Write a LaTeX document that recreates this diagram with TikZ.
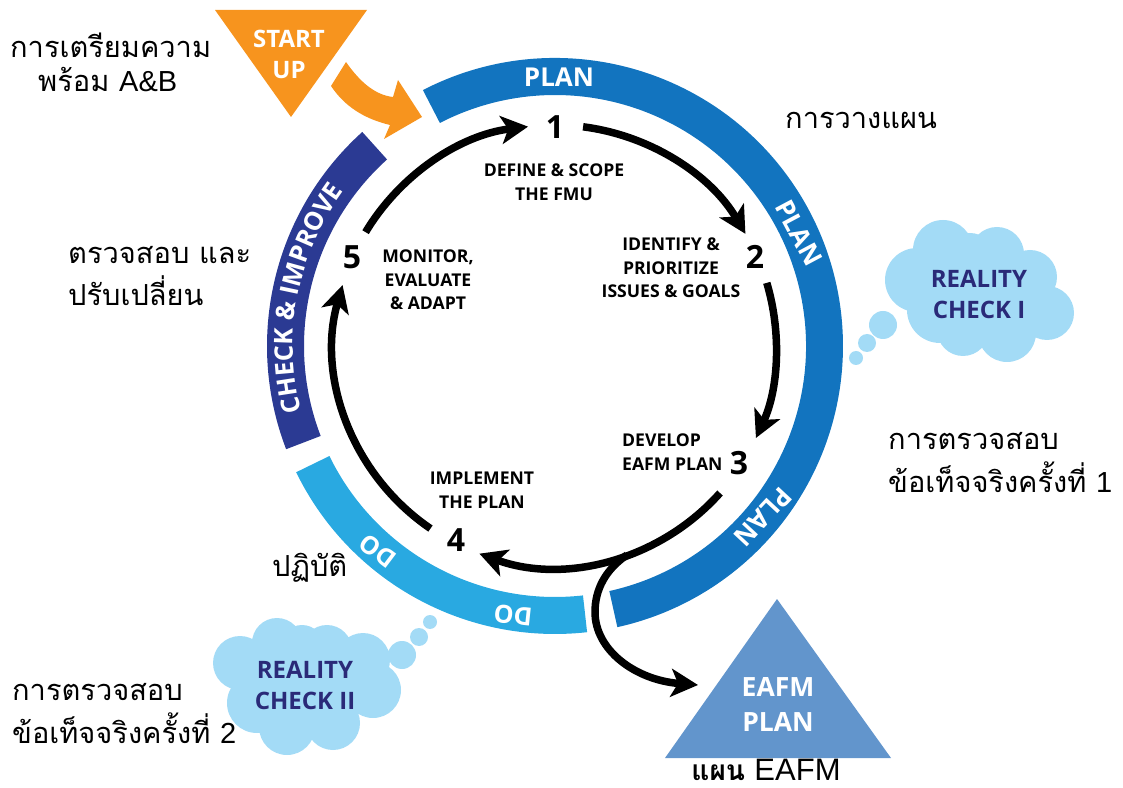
\documentclass[tikz,border=0pt]{standalone}
\usepackage{fontspec}
\setmainfont{Liberation Sans}
\newfontfamily\thaifont[Script=Thai]{Loma}
\newfontfamily\labfont{Open Sans}
\usetikzlibrary{arrows.meta,decorations.text}
\definecolor{planblue}{HTML}{1274BF}
\definecolor{dosky}{HTML}{29A9E1}
\definecolor{checknavy}{HTML}{2B3A93}
\definecolor{startorange}{HTML}{F7941E}
\definecolor{eafmblue}{HTML}{6295CC}
\definecolor{cloudblue}{HTML}{A3DBF6}
\definecolor{cloudtext}{HTML}{2A2A78}
\tikzset{
  x=1pt,y=1pt,
  flow/.style={line width=7.5pt,draw=black,-{Stealth[length=27pt,width=28pt,inset=7pt]}},
  num/.style={font=\labfont\bfseries\fontsize{32}{32}\selectfont,text=black,inner sep=6pt},
  lab/.style={font=\labfont\bfseries\fontsize{17.6}{23.7}\selectfont,text=black,align=center,inner sep=0pt},
  ringtext/.style={font=\labfont\bfseries\fontsize{26}{26}\selectfont,text=white,inner sep=0pt},
  cloudlab/.style={font=\labfont\bfseries\fontsize{24}{31}\selectfont,text=cloudtext,align=center,inner sep=0pt},
  wlab/.style={font=\labfont\bfseries\fontsize{26.5}{35}\selectfont,text=white,align=center,inner sep=0pt},
  th/.style={font=\thaifont\fontsize{29}{36}\selectfont,text=black,anchor=west,inner sep=0pt,align=left},
}
\begin{document}
\begin{tikzpicture}
\useasboundingbox (0,0) rectangle (1123,787);
% ring
\begin{scope}[shift={(555,441)}]
 \fill[planblue] (117.3:288) arc[start angle=117.3,end angle=-77.5,radius=288] -- (-77.5:251) arc[start angle=-77.5,end angle=117.3,radius=251] -- cycle;
 \fill[dosky] (206:288) arc[start angle=206,end angle=276.4,radius=288] -- (276.4:251) arc[start angle=276.4,end angle=206,radius=251] -- cycle;
 \fill[checknavy] (132:288) arc[start angle=132,end angle=201,radius=288] -- (201:251) arc[start angle=201,end angle=132,radius=251] -- cycle;
 \path[decorate,decoration={text along path,text align=center,text={|\labfont\bfseries\fontsize{25.5}{25.5}\selectfont\color{white}|CHECK {\&} IMPROVE}}]
   (197:262) arc[start angle=197,end angle=141,radius=262];
 \coordinate (s5) at (149:221);
 \coordinate (s1) at (82.7:221);
 \coordinate (s2) at (16.6:221);
 \coordinate (s3) at (-41.7:221);
 \coordinate (s4) at (235.7:221);
 \coordinate (fork) at (-71:221);
\end{scope}
\node[ringtext] (planA) at (559,710) {PLAN};
\node[ringtext,rotate=-62] (planB) at (799,554) {PLAN};
\node[ringtext,rotate=227] (planC) at (763,270) {PLAN};
\node[ringtext,rotate=174,font=\labfont\bfseries\fontsize{25}{25}\selectfont] (doA) at (513,172) {DO};
\node[ringtext,rotate=143,font=\labfont\bfseries\fontsize{25}{25}\selectfont] (doB) at (378,236) {DO};
% start up
\fill[startorange] (215,777) -- (367,777) -- (291,670) -- cycle;
\node[font=\labfont\bfseries\fontsize{24}{31}\selectfont,text=white,align=center,inner sep=0pt] (startup) at (289,733) {START\\UP};
\fill[startorange] (346,725) .. controls (360,705) and (375,692) .. (393,690) -- (398,707) -- (422,670) -- (384,648) -- (390,662) .. controls (365,668) and (345,680) .. (331,701) -- cycle;
% eafm triangle
\fill[eafmblue] (777,188) -- (665,29) -- (891,29) -- cycle;
\node[wlab] (eafm) at (778,82) {EAFM\\PLAN};
% clouds
\fill[cloudblue] (917,507) circle (32) (943,537) circle (30) (997,533) circle (27) (1030,510) circle (27) (1047,474) circle (27)
  (1007,454) circle (29) (963,457) circle (26) (940,477) circle (33) (980,490) circle (45)
  (970,530) circle (24)
  (883,462) circle (14) (867,444) circle (9) (856,429) circle (7);
\node[cloudlab] (rc1) at (979,492) {REALITY\\CHECK I};
\fill[cloudblue] (240,124) circle (27) (277,144) circle (25) (327,137) circle (25) (363,127) circle (27) (373,97) circle (28)
  (333,64) circle (27) (287,60) circle (28) (257,84) circle (30) (310,100) circle (45)
  (302,140) circle (22)
  (402,132) circle (14) (419,150) circle (9) (430,165) circle (7);
\node[cloudlab] (rc2) at (305,101) {REALITY\\CHECK II};
% numbers and labels
\node[num] (n1) at (555,660) {1};
\node[num] (n2) at (755,530) {2};
\node[num] (n3) at (739,324) {3};
\node[num] (n4) at (456,247) {4};
\node[num] (n5) at (352,530) {5};
\node[lab] (l1) at (554,605) {DEFINE \& SCOPE\\THE FMU};
\node[lab] (l2) at (671,519) {IDENTIFY \&\hspace{26pt}\\PRIORITIZE\hspace{26pt}\\ISSUES \& GOALS};
\node[lab,align=left,anchor=west] (l3) at (622,335) {DEVELOP\\EAFM PLAN};
\node[lab] (l4) at (482,297) {IMPLEMENT\\THE PLAN};
\node[lab] (l5) at (428,507) {MONITOR,\\EVALUATE\\\& ADAPT};
% connectors
\coordinate (eplan) at (698,102);
\draw[flow] (s5) arc[start angle=149,end angle=97,radius=221];
\draw[flow] (s1) arc[start angle=82.7,end angle=30.5,radius=221];
\draw[flow] (s2) arc[start angle=16.6,end angle=-24.6,radius=221];
\draw[flow] (s3) arc[start angle=-41.7,end angle=-110,radius=221];
\draw[flow] (s4) arc[start angle=235.7,end angle=164,radius=221];
\draw[flow] (fork) .. controls (605,217) and (595,197) .. (595,175) .. controls (595,137) and (635,107) .. (eplan);
% thai labels
\node[th] (t1) at (10,742) {การเตรียมความ};
\node[th] (t2) at (38,707) {พร้อม {\fontspec{Liberation Sans}A\&B}};
\node[th] (t3) at (785,667) {การวางแผน};
\node[th] (t4) at (68,532) {ตรวจสอบ และ};
\node[th] (t5) at (68,496) {ปรับเปลี่ยน};
\node[th] (t6) at (888,346) {การตรวจสอบ};
\node[th] (t7) at (888,310) {ข้อเท็จจริงครั้งที่ {\fontspec{Liberation Sans}1}};
\node[th] (t8) at (272,219) {ปฏิบัติ};
\node[th] (t9) at (12,95) {การตรวจสอบ};
\node[th] (t10) at (12,59) {ข้อเท็จจริงครั้งที่ {\fontspec{Liberation Sans}2}};
\node[th,anchor=center,font=\thaifont\bfseries\fontsize{28}{30}\selectfont] (t11) at (766,17) {แผน {\fontspec{Liberation Sans}\mdseries\fontsize{31}{31}\selectfont EAFM}};
\end{tikzpicture}
\end{document}
